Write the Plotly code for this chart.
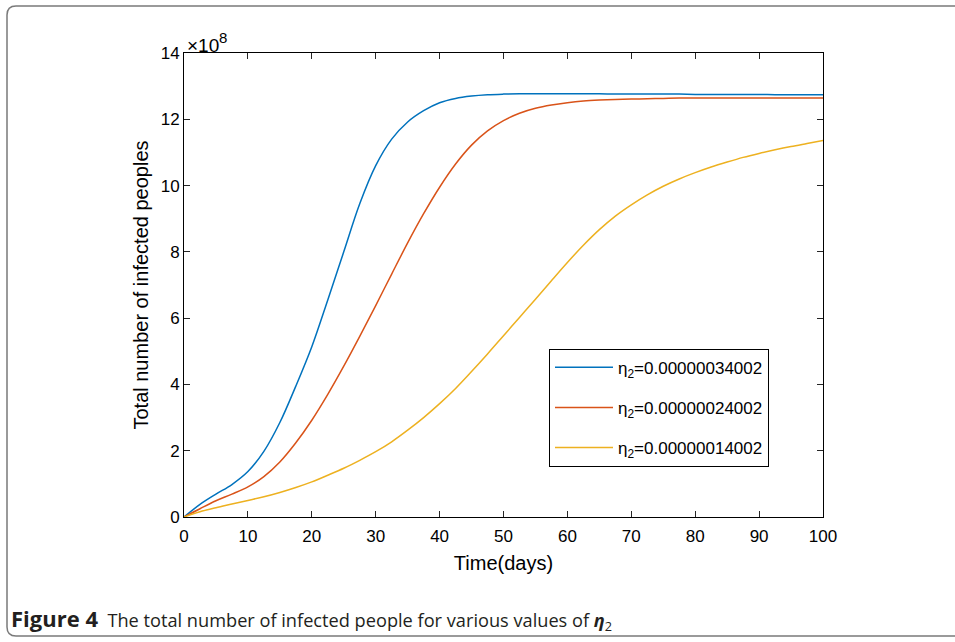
import plotly.graph_objects as go

days = [0, 2.5, 5, 7.5, 10, 12.5, 15, 17.5, 20, 22.5, 25, 27.5, 30, 32.5, 35, 37.5, 40,
        42.5, 45, 47.5, 50, 52.5, 55, 57.5, 60, 62.5, 65, 67.5, 70, 72.5, 75, 77.5, 80,
        82.5, 85, 87.5, 90, 92.5, 95, 97.5, 100]

# total infected, in units of 1e8
infected_eta_34002 = [0, 0.38, 0.69, 0.98, 1.37, 1.98, 2.85, 3.95, 5.14, 6.55, 8.0, 9.45,
                      10.6, 11.4, 11.92, 12.26, 12.5, 12.63, 12.7, 12.74, 12.76, 12.77,
                      12.77, 12.77, 12.77, 12.77, 12.77, 12.76, 12.76, 12.76, 12.76, 12.76,
                      12.75, 12.75, 12.75, 12.75, 12.75, 12.74, 12.74, 12.74, 12.74]
infected_eta_24002 = [0, 0.25, 0.49, 0.69, 0.91, 1.22, 1.66, 2.24, 2.92, 3.7, 4.55, 5.45,
                      6.38, 7.33, 8.27, 9.15, 9.95, 10.65, 11.22, 11.65, 11.96, 12.18, 12.33,
                      12.43, 12.5, 12.55, 12.58, 12.6, 12.61, 12.62, 12.63, 12.64, 12.64,
                      12.64, 12.64, 12.64, 12.64, 12.64, 12.64, 12.64, 12.64]
infected_eta_14002 = [0, 0.16, 0.28, 0.39, 0.5, 0.61, 0.74, 0.89, 1.06, 1.26, 1.47, 1.71,
                      1.97, 2.27, 2.62, 3.0, 3.42, 3.88, 4.39, 4.92, 5.47, 6.02, 6.57, 7.13,
                      7.68, 8.2, 8.67, 9.08, 9.42, 9.72, 9.98, 10.2, 10.39, 10.56, 10.71,
                      10.85, 10.97, 11.08, 11.18, 11.27, 11.36]

series_names = ["η<sub>2</sub>=0.00000034002", "η<sub>2</sub>=0.00000024002",
                "η<sub>2</sub>=0.00000014002"]
series_values = [infected_eta_34002, infected_eta_24002, infected_eta_14002]
series_colors = ["#0072BD", "#D95319", "#EDB120"]

x_ticks = [0, 10, 20, 30, 40, 50, 60, 70, 80, 90, 100]
y_ticks = [0, 2, 4, 6, 8, 10, 12, 14]

FONT = "Liberation Sans"

fig = go.Figure()
for i, (name, vals, col) in enumerate(zip(series_names, series_values, series_colors)):
    fig.add_trace(go.Scatter(x=days, y=vals, mode="lines", name=name,
                             legendgroup=f"g{i}",
                             line=dict(color=col, width=1.5, shape="spline", smoothing=1.0)))

axis_common = dict(showline=True, linecolor="black", linewidth=1, mirror="ticks",
                   ticks="inside", ticklen=6, tickwidth=1, tickcolor="#262626",
                   showgrid=False, zeroline=False,
                   tickfont=dict(family=FONT, size=17, color="black"))

fig.update_layout(
    width=955, height=642,
    margin=dict(l=184, r=132, t=53, b=125),
    paper_bgcolor="white", plot_bgcolor="white",
    xaxis=dict(range=[0, 100], tickvals=x_ticks, ticklabelstandoff=4,
               title=dict(text="Time(days)", standoff=10,
                          font=dict(family=FONT, size=20, color="black")),
               **axis_common),
    yaxis=dict(range=[0, 14], tickvals=y_ticks,
               title=dict(text="Total number of infected peoples", standoff=6,
                          font=dict(family=FONT, size=20, color="black")),
               **axis_common),
    legend=dict(x=0.5712, y=0.3625, xanchor="left", yanchor="top",
                bordercolor="black", borderwidth=1, bgcolor="white",
                traceorder="grouped", tracegroupgap=15, itemwidth=58,
                font=dict(family=FONT, size=17, color="black")),
    showlegend=True,
)

# exponent label (×10^8)
fig.add_annotation(xref="paper", yref="paper", x=(185 - 184) / 639, y=(517 - 45) / 464,
                   xanchor="left", yanchor="middle", text="×10", showarrow=False,
                   font=dict(family=FONT, size=19, color="black"))
fig.add_annotation(xref="paper", yref="paper", x=(217 - 184) / 639, y=(517 - 38) / 464,
                   xanchor="left", yanchor="middle", text="8", showarrow=False,
                   font=dict(family=FONT, size=15, color="black"))

# caption
fig.add_annotation(xref="paper", yref="paper", x=(9 - 184) / 639, y=(517 - 619) / 464,
                   xanchor="left", yanchor="middle", showarrow=False, align="left",
                   text="<span style='font-size:22px'><b>Figure 4</b></span>  The total number of infected people for various values of <b><i>η</i></b><sub>2</sub>",
                   font=dict(family="Open Sans", size=18.2, color="#231f20"))

# outer frame with rounded corners (paper coordinates)
x0, x1 = (7 - 184) / 639, (975 - 184) / 639
y0, y1 = (517 - 636) / 464, (517 - 6) / 464
rx, ry = 9 / 639, 9 / 464
path = (f"M {x1},{y1} L {x0+rx},{y1} Q {x0},{y1} {x0},{y1-ry} "
        f"L {x0},{y0+ry} Q {x0},{y0} {x0+rx},{y0} L {x1},{y0}")
fig.add_shape(type="path", xref="paper", yref="paper", path=path,
              line=dict(color="#7a7a7a", width=1.5))

fig.write_html("out.html")
